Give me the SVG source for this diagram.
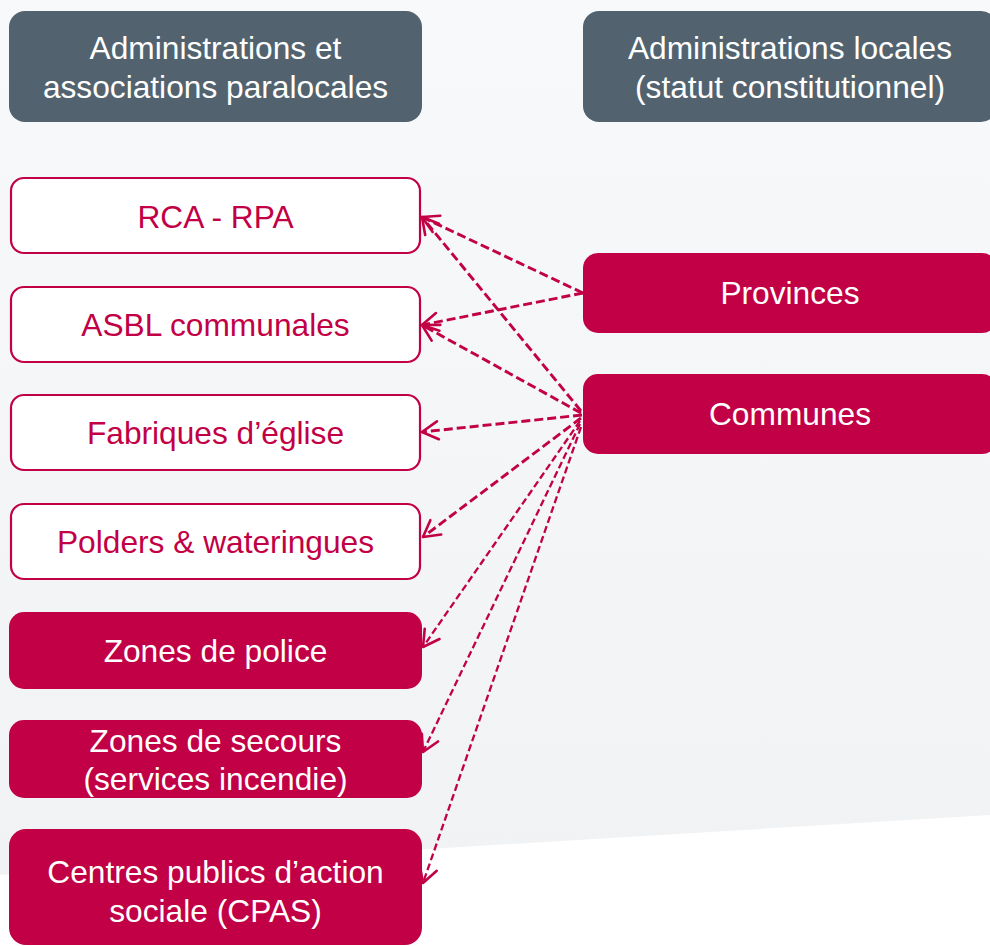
<svg xmlns="http://www.w3.org/2000/svg" width="990" height="946" viewBox="0 0 990 946">
  <defs>
    <linearGradient id="bg" x1="0" y1="0" x2="0" y2="1">
      <stop offset="0" stop-color="#f8f9fa"/>
      <stop offset="1" stop-color="#f1f2f4"/>
    </linearGradient>
    <marker id="arr" markerUnits="userSpaceOnUse" markerWidth="40" markerHeight="40" viewBox="-20 -20 40 40" refX="0" refY="0" orient="auto">
      <path d="M-16,-9 L0,0 L-16,9" fill="none" stroke="#c20045" stroke-width="2.6" stroke-linecap="round" stroke-linejoin="round"/>
    </marker>
    <style>
      .hdr { fill: #52636f; }
      .red { fill: #c20045; }
      .wht { fill: #ffffff; stroke: #c20045; stroke-width: 2.2; }
      text { font-family: "Liberation Sans", Arial, sans-serif; font-size: 31.7px; text-anchor: middle; }
      .tw { fill: #ffffff; }
      .tr { fill: #c20045; }
      .c1 { fill: none; stroke: #c20045; stroke-width: 2.9; stroke-dasharray: 9 4; marker-end: url(#arr); }
      .c2 { fill: none; stroke: #c20045; stroke-width: 2.3; stroke-dasharray: 7 3.5; marker-end: url(#arr); }
    </style>
  </defs>

  <rect x="0" y="0" width="990" height="946" fill="#ffffff"/>
  <polygon points="0,0 990,0 990,815 0,875" fill="url(#bg)"/>

  <g id="hdr-left">
    <rect class="hdr" x="9" y="11" width="413" height="111" rx="16"/>
    <text class="tw" x="215.5" y="59">Administrations et</text>
    <text class="tw" x="215.5" y="98">associations paralocales</text>
  </g>
  <g id="hdr-right">
    <rect class="hdr" x="583" y="11" width="414" height="111" rx="16"/>
    <text class="tw" x="790" y="59">Administrations locales</text>
    <text class="tw" x="790" y="98">(statut constitutionnel)</text>
  </g>

  <g id="provinces">
    <rect class="red" x="583" y="253" width="414" height="80" rx="15"/>
    <text class="tw" x="790" y="304">Provinces</text>
  </g>
  <g id="communes">
    <rect class="red" x="583" y="374" width="414" height="80" rx="15"/>
    <text class="tw" x="790" y="425">Communes</text>
  </g>

  <g id="rca">
    <rect class="wht" x="11" y="178" width="409" height="75" rx="13"/>
    <text class="tr" x="215.5" y="228">RCA - RPA</text>
  </g>
  <g id="asbl">
    <rect class="wht" x="11" y="287" width="409" height="75" rx="13"/>
    <text class="tr" x="215.5" y="336">ASBL communales</text>
  </g>
  <g id="fabriques">
    <rect class="wht" x="11" y="395" width="409" height="75" rx="13"/>
    <text class="tr" x="215.5" y="444">Fabriques d’église</text>
  </g>
  <g id="polders">
    <rect class="wht" x="11" y="504" width="409" height="75" rx="13"/>
    <text class="tr" x="215.5" y="553">Polders &amp; wateringues</text>
  </g>
  <g id="police">
    <rect class="red" x="9" y="612" width="413" height="77" rx="15"/>
    <text class="tw" x="215.5" y="662">Zones de police</text>
  </g>
  <g id="secours">
    <rect class="red" x="9" y="720" width="413" height="78" rx="15"/>
    <text class="tw" x="215.5" y="752">Zones de secours</text>
    <text class="tw" x="215.5" y="790">(services incendie)</text>
  </g>
  <g id="cpas">
    <rect class="red" x="9" y="829" width="413" height="116" rx="17"/>
    <text class="tw" x="215.5" y="883">Centres publics d’action</text>
    <text class="tw" x="215.5" y="922">sociale (CPAS)</text>
  </g>

  <g id="connectors">
    <line class="c1" x1="583" y1="293" x2="422" y2="217"/>
    <line class="c1" x1="583" y1="293" x2="422" y2="325"/>
    <line class="c1" x1="581" y1="411" x2="422" y2="217"/>
    <line class="c1" x1="581" y1="413" x2="422" y2="325"/>
    <line class="c1" x1="582" y1="415" x2="422" y2="432"/>
    <line class="c1" x1="581" y1="418" x2="423" y2="537"/>
    <line class="c2" x1="580" y1="421" x2="423" y2="647"/>
    <line class="c2" x1="580" y1="424" x2="423" y2="752"/>
    <line class="c2" x1="581" y1="427" x2="423" y2="883"/>
  </g>
</svg>
